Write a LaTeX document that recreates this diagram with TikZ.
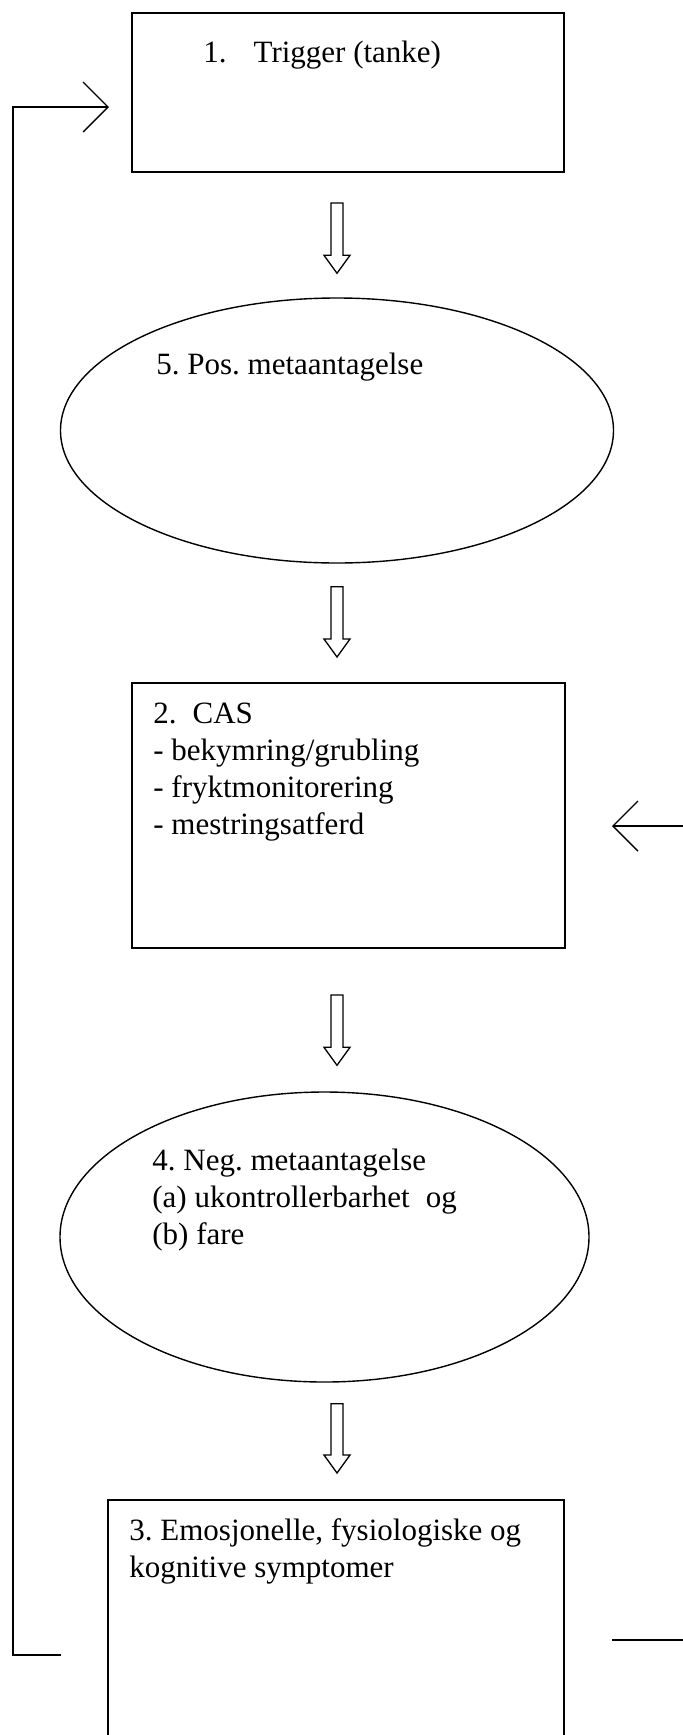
\documentclass[tikz,border=0pt]{standalone}
\usepackage{fontspec}
\setmainfont{Liberation Serif}
\usepackage{xcolor}
\usepackage{tikz}
\usetikzlibrary{calc,positioning,shapes.geometric,arrows.meta}
\definecolor{ink}{HTML}{000000}
\frenchspacing

\begin{document}
\begin{tikzpicture}[
  x=0.5pt,
  y=-0.5pt,
  stepbox/.style={
    draw=ink,
    rectangle,
    line width=1pt,
    inner sep=0pt
  },
  belief/.style={
    draw=ink,
    ellipse,
    line width=0.7pt,
    inner sep=0pt
  },
  boxtext/.style={
    anchor=base west,
    align=left,
    inner sep=0pt,
    font=\fontsize{15.5}{18.5}\selectfont
  },
  feedback/.style={
    draw=ink,
    line width=0.9pt
  },
  opentip/.style={
    -{Straight Barb[length=12.5pt,width=25pt,line width=0.7pt]}
  },
  blockarrow/.style={
    draw=ink,
    line width=0.65pt,
    to path={
      let \p1=(\tikztostart), \p2=(\tikztotarget) in
      (\x1-3pt,\y1) -- (\x1-3pt,\y2+9pt) -- (\x1-6.5pt,\y2+9pt) -- (\x1,\y2)
      -- (\x1+6.5pt,\y2+9pt) -- (\x1+3pt,\y2+9pt) -- (\x1+3pt,\y1) -- cycle
    }
  }
]

\path[use as bounding box] (0,0) rectangle (683,1735);

% Steps
\node[stepbox, minimum width=216pt, minimum height=79.5pt] (trig) at (348,92.5) {};
\node[belief, minimum width=276.5pt, minimum height=132.5pt] (pos) at (337,430.5) {};
\node[stepbox, minimum width=216.5pt, minimum height=132.5pt] (cas) at (348.5,815.5) {};
\node[belief, minimum width=264.5pt, minimum height=145pt] (neg) at (324.5,1237) {};
\node[stepbox, minimum width=228pt, minimum height=121pt] (symp) at (336,1621) {};

% Texts (base = last line)
\node[boxtext] (trigtext) at (203,62) {1.\hspace{13.5pt}Trigger (tanke)};
\node[boxtext] (postext)  at (156,374) {5. Pos. metaantagelse};
\node[boxtext] (castext)  at (153,834)
  {2.\hspace{8pt}CAS\\- bekymring/grubling\\- fryktmonitorering\\- mestringsatferd};
\node[boxtext] (negtext)  at (152,1244)
  {4. Neg. metaantagelse\\(a) ukontrollerbarhet\hspace{8pt}og\\(b) fare};
\node[boxtext] (symptext) at (129,1577)
  {3. Emosjonelle, fysiologiske og\\kognitive symptomer};

% Main flow
\coordinate (spine) at (337,0);
\draw[blockarrow] ([yshift=-15pt]trig.south -| spine) to ([yshift=12pt]pos.north -| spine);
\draw[blockarrow] ([yshift=-11.5pt]pos.south -| spine) to ([yshift=12.5pt]cas.north -| spine);
\draw[blockarrow] ([yshift=-23pt]cas.south -| spine) to ([yshift=13pt]neg.north -| spine);
\draw[blockarrow] ([yshift=-10.5pt]neg.south -| spine) to ([yshift=13pt]symp.north -| spine);

% Feedback lines
\coordinate (lout)  at (61,1655);
\coordinate (lrail) at (13,1655);
\coordinate (ltip)  at (109,107);
\draw[feedback, opentip] (lout) -- (lrail) |- (ltip);

\coordinate (rin)  at (683,826);
\coordinate (rtip) at (612,826);
\draw[feedback, opentip] (rin) -- (rtip);

\coordinate (rout)  at (612,1640);
\coordinate (redge) at (683,1640);
\draw[feedback] (rout) -- (redge);

\end{tikzpicture}
\end{document}
